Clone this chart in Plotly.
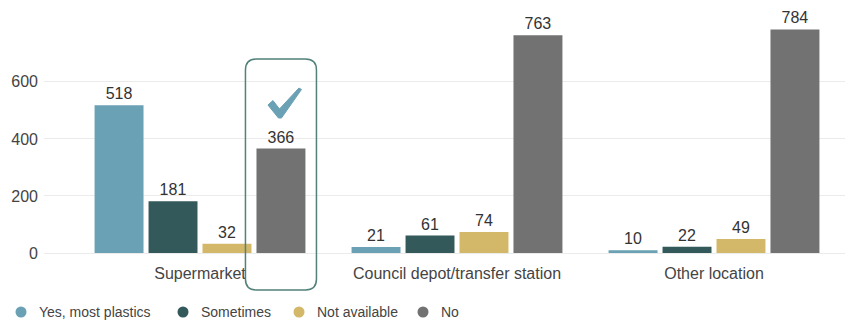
import plotly.graph_objects as go

categories = ["Supermarket", "Council depot/transfer station", "Other location"]
series_names = ["Yes, most plastics", "Sometimes", "Not available", "No"]
yes_vals = [518, 21, 10]
sometimes_vals = [181, 61, 22]
notavail_vals = [32, 74, 49]
no_vals = [366, 763, 784]
y_ticks = [0, 200, 400, 600]

colors = ["#6aa1b5", "#33595a", "#d3b869", "#727272"]
series_vals = [yes_vals, sometimes_vals, notavail_vals, no_vals]

W, H = 857, 322
ml, mr, mt, mb = 44, 12, 2, 69
pw, ph = W - ml - mr, H - mt - mb
k = 257.0
x0 = -156.0 / k
x1 = x0 + pw / k
y_max = 880
bargap = 0.16
bargroupgap = 0.093
FONT = "Liberation Sans, Arial, sans-serif"

fig = go.Figure()
for name, vals, col in zip(series_names, series_vals, colors):
    fig.add_trace(go.Bar(
        x=list(range(len(categories))), y=vals, name=name,
        marker=dict(color=col, line=dict(width=0)),
        text=[str(v) for v in vals], textposition="outside",
        textfont=dict(size=16, color="#333333", family=FONT),
        cliponaxis=False, showlegend=False,
    ))

def xp_px(px):
    return (px - ml) / pw
def ypx(py):
    return (H - mb - py) / ph

# highlight box around Supermarket "No" bar
slot = (1 - bargap) / 4
bar_c = 0 + 1.5 * slot
bar_c_px = ml + (bar_c - x0) * k
hw = 35.5
bx0, bx1 = xp_px(bar_c_px - hw), xp_px(bar_c_px + hw)
by1, by0 = ypx(59), ypx(290)
rx, ry = 11 / pw, 11 / ph
path = (f"M {bx0+rx},{by0} L {bx1-rx},{by0} Q {bx1},{by0} {bx1},{by0+ry} "
        f"L {bx1},{by1-ry} Q {bx1},{by1} {bx1-rx},{by1} L {bx0+rx},{by1} "
        f"Q {bx0},{by1} {bx0},{by1-ry} L {bx0},{by0+ry} Q {bx0},{by0} {bx0+rx},{by0} Z")
fig.add_shape(type="path", path=path, xref="paper", yref="paper",
              line=dict(color="#52807a", width=1.5), fillcolor="rgba(0,0,0,0)")

# check mark (pixel offsets relative to bar centre)
cx = bar_c_px
check_pts = [(-13, 105), (-8, 100.5), (-1.5, 109), (18, 88), (20.5, 89.5), (0.5, 118), (-2.5, 118)]
cpath = "M " + " L ".join(f"{xp_px(cx+dx)},{ypx(py)}" for dx, py in check_pts) + " Z"
fig.add_shape(type="path", path=cpath, xref="paper", yref="paper",
              line=dict(color="#6aa1b5", width=1), fillcolor="#6aa1b5")

# legend drawn as circles + labels
leg_marker_px = [21, 183, 299, 423]
leg_y = 312
for name, col, mx in zip(series_names, colors, leg_marker_px):
    r = 5.5
    fig.add_shape(type="circle", xref="paper", yref="paper",
                  x0=xp_px(mx - r), x1=xp_px(mx + r), y0=ypx(leg_y + r), y1=ypx(leg_y - r),
                  fillcolor=col, line=dict(width=0))
    fig.add_annotation(x=xp_px(mx + 16), y=ypx(leg_y), xref="paper", yref="paper",
                       text=name, showarrow=False, xanchor="left", yanchor="middle",
                       font=dict(size=14, color="#444444", family=FONT))

fig.update_layout(
    width=W, height=H, margin=dict(l=ml, r=mr, t=mt, b=mb),
    paper_bgcolor="white", plot_bgcolor="white",
    barmode="group", bargap=bargap, bargroupgap=bargroupgap,
    font=dict(family=FONT, color="#444444"),
    showlegend=False,
    xaxis=dict(range=[x0, x1], tickvals=list(range(len(categories))), ticktext=categories,
               showgrid=False, zeroline=False, showline=False,
               tickfont=dict(size=16, color="#444444"), ticks="", ticklabelstandoff=9),
    yaxis=dict(range=[0, y_max], tickvals=y_ticks, showgrid=True, gridcolor="#ebebeb",
               gridwidth=1, zeroline=True, zerolinecolor="#ebebeb", zerolinewidth=1,
               tickfont=dict(size=16, color="#444444"), ticks="", ticklabelstandoff=5),
)
fig.write_html("out.html")
